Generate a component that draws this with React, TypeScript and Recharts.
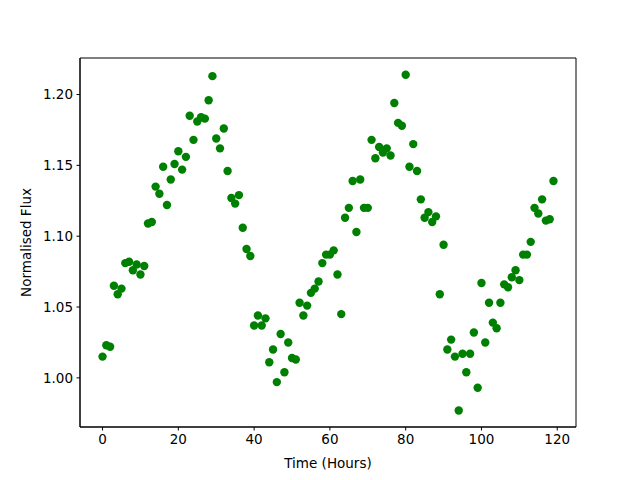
import { ScatterChart, Scatter, XAxis, YAxis, ReferenceArea } from "recharts";

const hours = [
  0, 1, 2, 3, 4, 5, 6, 7, 8, 9, 10, 11, 12, 13, 14, 15, 16, 17, 18, 19,
  20, 21, 22, 23, 24, 25, 26, 27, 28, 29, 30, 31, 32, 33, 34, 35, 36, 37, 38, 39,
  40, 41, 42, 43, 44, 45, 46, 47, 48, 49, 50, 51, 52, 53, 54, 55, 56, 57, 58, 59,
  60, 61, 62, 63, 64, 65, 66, 67, 68, 69, 70, 71, 72, 73, 74, 75, 76, 77, 78, 79,
  80, 81, 82, 83, 84, 85, 86, 87, 88, 89, 90, 91, 92, 93, 94, 95, 96, 97, 98, 99,
  100, 101, 102, 103, 104, 105, 106, 107, 108, 109, 110, 111, 112, 113, 114, 115, 116, 117, 118, 119,
];

const flux = [
  1.015, 1.023, 1.022, 1.065, 1.059, 1.063, 1.081, 1.082, 1.076, 1.08,
  1.073, 1.079, 1.109, 1.11, 1.135, 1.13, 1.149, 1.122, 1.14, 1.151,
  1.16, 1.147, 1.156, 1.185, 1.168, 1.181, 1.184, 1.183, 1.196, 1.213,
  1.169, 1.162, 1.176, 1.146, 1.127, 1.123, 1.129, 1.106, 1.091, 1.086,
  1.037, 1.044, 1.037, 1.042, 1.011, 1.02, 0.997, 1.031, 1.004, 1.025,
  1.014, 1.013, 1.053, 1.044, 1.051, 1.06, 1.063, 1.068, 1.081, 1.087,
  1.087, 1.09, 1.073, 1.045, 1.113, 1.12, 1.139, 1.103, 1.14, 1.12,
  1.12, 1.168, 1.155, 1.163, 1.159, 1.162, 1.157, 1.194, 1.18, 1.178,
  1.214, 1.149, 1.165, 1.146, 1.126, 1.113, 1.117, 1.11, 1.114, 1.059,
  1.094, 1.02, 1.027, 1.015, 0.977, 1.017, 1.004, 1.017, 1.032, 0.993,
  1.067, 1.025, 1.053, 1.039, 1.035, 1.053, 1.066, 1.064, 1.071, 1.076,
  1.069, 1.087, 1.087, 1.096, 1.12, 1.116, 1.126, 1.111, 1.112, 1.139,
];

const xTicks = [0, 20, 40, 60, 80, 100, 120];
const yTicks = [1.0, 1.05, 1.1, 1.15, 1.2];

const xDomain = [-5.95, 124.95];
const yDomain = [0.9653, 1.2258];

const data = hours.map((h, i) => ({ hour: h, flux: flux[i] }));

const font = "'DejaVu Sans', sans-serif";
const tickStyle = { fill: "#000", fontSize: 13.5, fontFamily: font };

const Dot = (props: any) => (
  <circle cx={props.cx} cy={props.cy} r={4.2} fill="#008000" />
);

export default function App() {
  return (
    <div style={{ position: "absolute", left: 0, top: 0, background: "#fff" }}>
      <ScatterChart
        width={640}
        height={480}
        margin={{ top: 58, right: 64, bottom: 0, left: 0 }}
      >
        <XAxis
          dataKey="hour"
          type="number"
          domain={xDomain}
          ticks={xTicks}
          allowDataOverflow
          height={53}
          stroke="#000"
          tickSize={3.5}
          tickMargin={3.5}
          tick={tickStyle}
          label={{
            value: "Time (Hours)",
            position: "insideBottom",
            offset: 12,
            style: { fill: "#000", fontSize: 13.5, fontFamily: font },
          }}
        />
        <YAxis
          dataKey="flux"
          type="number"
          domain={yDomain}
          ticks={yTicks}
          allowDataOverflow
          width={80}
          stroke="#000"
          tickSize={3.5}
          tickMargin={3.5}
          tick={tickStyle}
          tickFormatter={(v: number) => v.toFixed(2)}
          label={{
            value: "Normalised Flux",
            angle: -90,
            position: "insideLeft",
            offset: 26,
            style: {
              fill: "#000",
              fontSize: 13.5,
              fontFamily: font,
              textAnchor: "middle",
            },
          }}
        />
        <ReferenceArea
          x1={xDomain[0]}
          x2={xDomain[1]}
          y1={yDomain[0]}
          y2={yDomain[1]}
          fill="none"
          fillOpacity={0}
          stroke="#000"
          strokeWidth={1}
          strokeOpacity={1}
          ifOverflow="visible"
        />
        <Scatter
          data={data}
          shape={Dot}
          isAnimationActive={false}
        />
      </ScatterChart>
    </div>
  );
}
